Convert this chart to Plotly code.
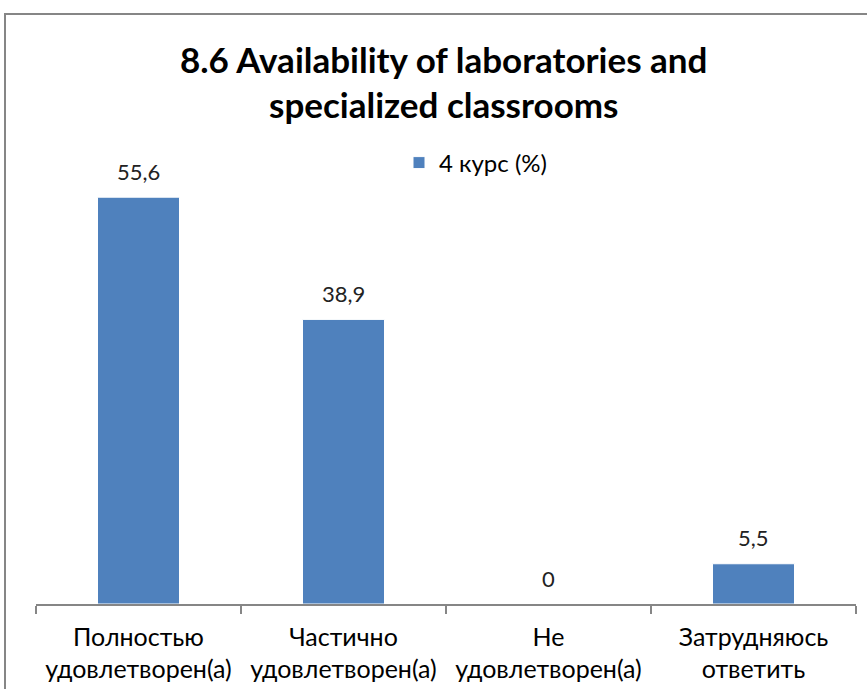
import plotly.graph_objects as go

categories = ["Полностью<br>удовлетворен(а)", "Частично<br>удовлетворен(а)", "Не<br>удовлетворен(а)", "Затрудняюсь<br>ответить"]
values = [55.6, 38.9, 0, 5.5]
value_labels = ["55,6", "38,9", "0", "5,5"]
series_name = "4 курс (%)"
title_lines = ["8.6 Availability of laboratories and", "specialized classrooms"]

FONT = "Lato, Calibri, sans-serif"
W, H = 867, 689
L, R, T, B = 36, 11, 165, 85
pw, ph = W - L - R, H - T - B

def px_x(px):
    return (px - L) / pw

def px_y(py):
    return (H - B - py) / ph

fig = go.Figure()
fig.add_trace(go.Bar(
    x=categories, y=values, name=series_name,
    marker=dict(color="#4F81BD", line=dict(color="#FFFFFF", width=1)),
    width=0.4, showlegend=True,
))

annotations = []
for i, line in enumerate(title_lines):
    annotations.append(dict(
        text="<b>" + line + "</b>", xref="paper", yref="paper",
        x=px_x(443), y=px_y(59 + 45 * i), xanchor="center", yanchor="middle",
        showarrow=False, font=dict(family=FONT, size=35, color="#000000"),
    ))
for c, v, t in zip(categories, values, value_labels):
    annotations.append(dict(
        text=t, x=c, y=v, xref="x", yref="y", xanchor="center", yanchor="middle",
        yshift=26, showarrow=False, font=dict(family=FONT, size=22, color="#222222"),
    ))

fig.update_layout(
    width=W, height=H,
    margin=dict(l=L, r=R, t=T, b=B, pad=0, autoexpand=False),
    paper_bgcolor="white", plot_bgcolor="white",
    annotations=annotations,
    legend=dict(
        x=px_x(399), y=px_y(163), xanchor="left", yanchor="middle",
        orientation="h", font=dict(family=FONT, size=24, color="#000000"),
        bgcolor="rgba(0,0,0,0)", itemwidth=30,
    ),
    bargap=0.6,
    shapes=[dict(
        type="rect", xref="paper", yref="paper",
        x0=px_x(5), x1=px_x(880), y0=px_y(14), y1=px_y(720),
        line=dict(color="#868686", width=2), layer="below",
    )],
)
fig.update_xaxes(
    range=[-0.5, 3.5], automargin=False,
    showline=True, linecolor="#868686", linewidth=1.5,
    ticks="outside", tickson="boundaries", ticklen=8, tickcolor="#868686", tickwidth=1.5,
    tickfont=dict(family=FONT, size=25, color="#000000"),
    ticklabelstandoff=10,
    showgrid=False,
)
fig.update_yaxes(range=[0, 60], visible=False, showgrid=False, automargin=False)

fig.write_html("out.html", config={"displayModeBar": False},
               post_script="document.body.style.margin='0';")
